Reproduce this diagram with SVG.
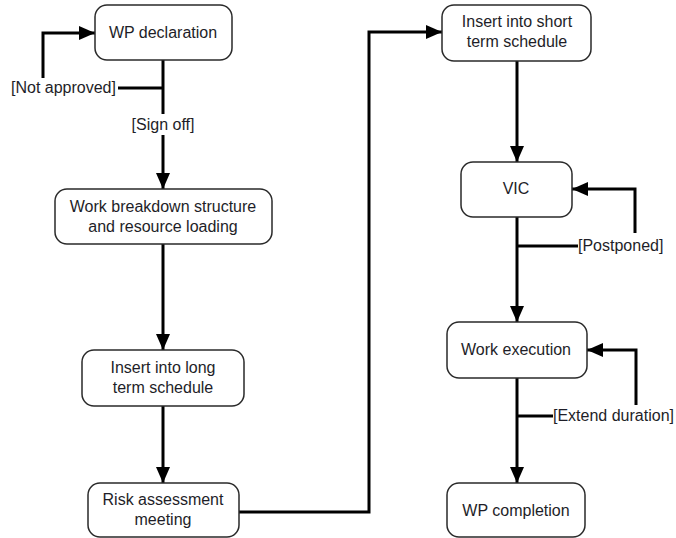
<svg xmlns="http://www.w3.org/2000/svg" width="676" height="538" viewBox="0 0 676 538">
  <style>
    .box { fill: #ffffff; stroke: #2a2a2a; stroke-width: 1.5; }
    .txt { font-family: "Liberation Sans", Arial, sans-serif; font-size: 16px; fill: #1e1e28; text-anchor: middle; dominant-baseline: central; }
    .lbl { font-family: "Liberation Sans", Arial, sans-serif; font-size: 16px; fill: #1e1e28; dominant-baseline: central; }
    .edge { fill: none; stroke: #000000; stroke-width: 3; }
    .arr { marker-end: url(#head); }
  </style>
  <defs>
    <marker id="head" markerUnits="userSpaceOnUse" markerWidth="16" markerHeight="14" viewBox="0 0 16 14" refX="16" refY="7" orient="auto">
      <path d="M0,0 L16,7 L0,14 Z" fill="#000000"/>
    </marker>
  </defs>
  <rect width="676" height="538" fill="#ffffff"/>

  <!-- connectors -->
  <g id="connectors">
    <path class="edge arr" d="M163,60 V189"/>
    <path class="edge" d="M163,88 H118"/>
    <path class="edge arr" d="M43,78 V33 H95"/>
    <path class="edge arr" d="M163,244 V350"/>
    <path class="edge arr" d="M163,406 V483"/>
    <path class="edge arr" d="M239,512 H369 V32 H442"/>
    <path class="edge arr" d="M517,61 V162"/>
    <path class="edge arr" d="M517,217 V322"/>
    <path class="edge" d="M517,246 H578"/>
    <path class="edge arr" d="M635,233 V189 H572"/>
    <path class="edge arr" d="M517,378 V483"/>
    <path class="edge" d="M517,416 H553"/>
    <path class="edge arr" d="M636,405 V350 H587"/>
    <!-- guard labels -->
    <text class="lbl" x="11" y="87">[Not approved]</text>
    <rect x="126" y="114" width="74" height="21" fill="#ffffff"/>
    <text class="txt" x="163" y="124">[Sign off]</text>
    <text class="lbl" x="578" y="245">[Postponed]</text>
    <text class="lbl" x="553" y="415">[Extend duration]</text>
  </g>

  <g id="wp-declaration">
    <rect class="box" x="95" y="5" width="137" height="55" rx="12"/>
    <text class="txt" x="163" y="32">WP declaration</text>
  </g>
  <g id="work-breakdown">
    <rect class="box" x="55" y="189" width="217" height="55" rx="12"/>
    <text class="txt" x="163" y="206">Work breakdown structure</text>
    <text class="txt" x="163" y="226">and resource loading</text>
  </g>
  <g id="long-term-schedule">
    <rect class="box" x="82" y="350" width="162" height="56" rx="12"/>
    <text class="txt" x="163" y="367">Insert into long</text>
    <text class="txt" x="163" y="387">term schedule</text>
  </g>
  <g id="risk-assessment">
    <rect class="box" x="88" y="483" width="151" height="54" rx="12"/>
    <text class="txt" x="163" y="499">Risk assessment</text>
    <text class="txt" x="163" y="519">meeting</text>
  </g>
  <g id="short-term-schedule">
    <rect class="box" x="442" y="5" width="149" height="56" rx="12"/>
    <text class="txt" x="517" y="21">Insert into short</text>
    <text class="txt" x="517" y="41">term schedule</text>
  </g>
  <g id="vic">
    <rect class="box" x="461" y="162" width="111" height="55" rx="12"/>
    <text class="txt" x="516" y="188">VIC</text>
  </g>
  <g id="work-execution">
    <rect class="box" x="447" y="322" width="140" height="56" rx="12"/>
    <text class="txt" x="516" y="349">Work execution</text>
  </g>
  <g id="wp-completion">
    <rect class="box" x="447" y="483" width="138" height="54" rx="12"/>
    <text class="txt" x="516" y="510">WP completion</text>
  </g>
</svg>
